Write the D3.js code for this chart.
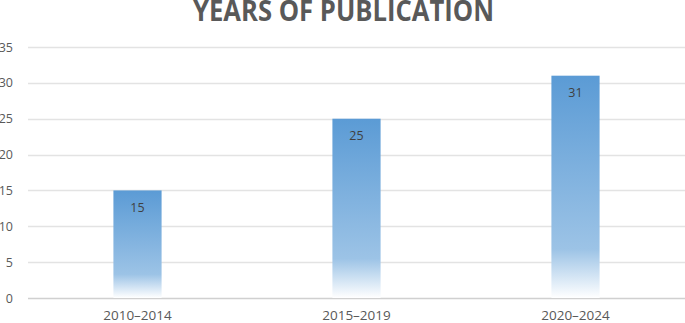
<!DOCTYPE html>
<html lang="en">
<head>
<meta charset="UTF-8">
<title>Years of Publication</title>
<style>
    body { margin: 0; background: #fff; overflow: hidden; }
    text { font-family: "Open Sans", Calibri, sans-serif; }
</style>
</head>
<body>
<svg id="chart" width="685" height="323"></svg>
<script src="https://d3js.org/d3.v7.min.js"></script>
<script>
    const categories = ["2010\u20132014", "2015\u20132019", "2020\u20132024"];
    const counts = [15, 25, 31];
    const yTicks = [0, 5, 10, 15, 20, 25, 30, 35];

    const svg = d3.select("#chart");
    const margin = {top: 47, right: 0, bottom: 25, left: 28};
    const W = 685, H = 323;

    const x = d3.scaleBand().domain(categories)
        .range([margin.left, W - margin.right]).paddingInner(0.78).paddingOuter(0.39);
    const y = d3.scaleLinear().domain([0, 35]).range([H - margin.bottom, margin.top]);

    // gradient fill for bars
    const grad = svg.append("defs").append("linearGradient")
        .attr("id", "barGrad").attr("x1", 0).attr("y1", 0).attr("x2", 0).attr("y2", 1);
    grad.append("stop").attr("offset", "0%").attr("stop-color", "#5b9bd5");
    grad.append("stop").attr("offset", "78%").attr("stop-color", "#9cc3e6");
    grad.append("stop").attr("offset", "100%").attr("stop-color", "#ffffff");

    // gridlines
    svg.append("g").selectAll("line").data(yTicks).join("line")
        .attr("x1", margin.left).attr("x2", W)
        .attr("y1", d => Math.round(y(d)) + 0.5).attr("y2", d => Math.round(y(d)) + 0.5)
        .attr("stroke", d => d === 0 ? "#d0d0d0" : "#e3e3e3").attr("stroke-width", 1.3);

    // y tick labels
    svg.append("g").selectAll("text").data(yTicks).join("text")
        .attr("x", 13).attr("y", d => y(d) + 4.5)
        .attr("text-anchor", "end").attr("fill", "#595959").attr("font-size", 12.5)
        .text(d => d);

    // bars
    svg.append("g").selectAll("rect").data(counts).join("rect")
        .attr("x", (d, i) => x(categories[i]))
        .attr("width", x.bandwidth())
        .attr("y", d => y(d))
        .attr("height", d => y(0) - y(d))
        .attr("fill", "url(#barGrad)");

    // data labels
    svg.append("g").selectAll("text").data(counts).join("text")
        .attr("x", (d, i) => x(categories[i]) + x.bandwidth() / 2)
        .attr("y", d => y(d) + 21.5)
        .attr("text-anchor", "middle").attr("fill", "#404040").attr("font-size", 12.5)
        .text(d => d);

    // x labels
    svg.append("g").selectAll("text").data(categories).join("text")
        .attr("x", d => x(d) + x.bandwidth() / 2)
        .attr("y", 320)
        .attr("text-anchor", "middle").attr("fill", "#595959").attr("font-size", 13.5)
        .text(d => d);

    // title
    svg.append("text")
        .attr("x", 343.5).attr("y", 21)
        .attr("text-anchor", "middle").attr("fill", "#595959")
        .attr("font-size", 28).attr("font-weight", "bold")
        .attr("textLength", 301).attr("lengthAdjust", "spacingAndGlyphs")
        .text("YEARS OF PUBLICATION");
</script>
</body>
</html>
